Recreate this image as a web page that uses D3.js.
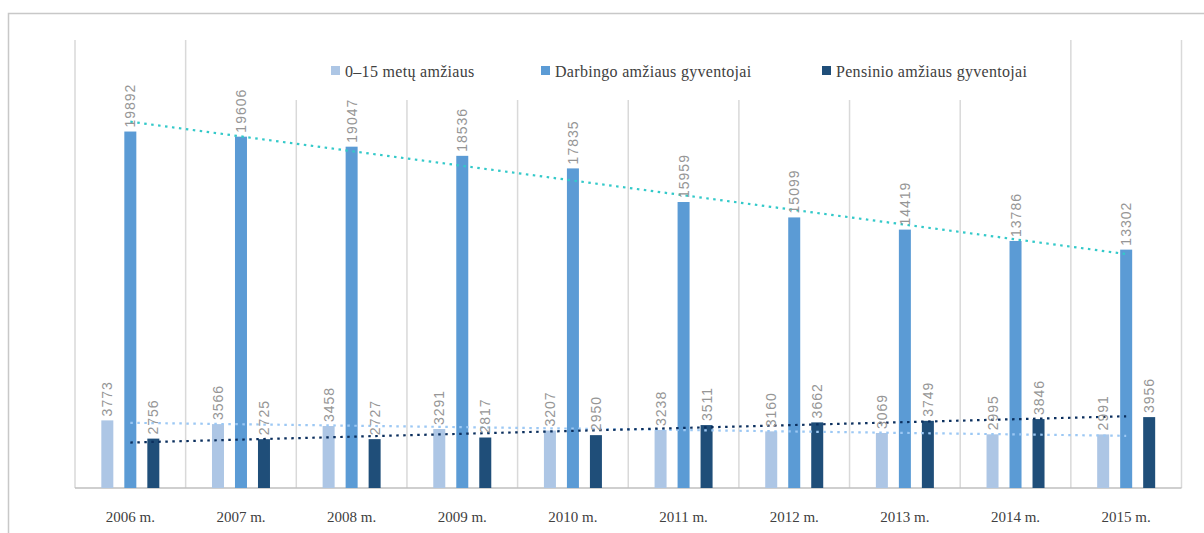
<!doctype html>
<html lang="lt">
<head>
    <meta charset="utf-8">
    <title>Gyventojai pagal amžiaus grupes</title>
    <script src="https://cdn.jsdelivr.net/npm/d3@7/dist/d3.min.js"></script>
    <style>
        body { margin: 0; background: #fff; }
        .lbl { font-family: "Liberation Sans", Arial, sans-serif; font-size: 14px; fill: #969696; letter-spacing: 1px; }
        .serif { font-family: "Liberation Serif", "Times New Roman", serif; font-size: 15px; fill: #404040; }
        .leg { font-family: "Liberation Serif", "Times New Roman", serif; font-size: 16px; fill: #404040; letter-spacing: 0.3px; }
    </style>
</head>
<body>
<svg id="chart" width="1204" height="533"></svg>
<script>
    // duomenys
    var years = ["2006 m.", "2007 m.", "2008 m.", "2009 m.", "2010 m.", "2011 m.", "2012 m.", "2013 m.", "2014 m.", "2015 m."];
    var seriesNames = ["0–15 metų amžiaus", "Darbingo amžiaus gyventojai", "Pensinio amžiaus gyventojai"];
    var vaikai = [3773, 3566, 3458, 3291, 3207, 3238, 3160, 3069, 2995, 2991];
    var darbingi = [19892, 19606, 19047, 18536, 17835, 15959, 15099, 14419, 13786, 13302];
    var pensininkai = [2756, 2725, 2727, 2817, 2950, 3511, 3662, 3749, 3846, 3956];
    var barColors = ["#adc6e5", "#5b9bd5", "#1f4e79"];
    var trendColors = ["#9cc8f4", "#33c9c9", "#0b2f5e"];

    var series = [vaikai, darbingi, pensininkai];

    var svg = d3.select("#chart");

    // rėmelis
    svg.append("rect")
        .attr("x", 8.5).attr("y", 13.5)
        .attr("width", 1220).attr("height", 540)
        .attr("fill", "none").attr("stroke", "#c8c8c8").attr("stroke-width", 1.5);

    var x = d3.scaleBand().domain(years).range([75, 1181.5]).padding(0);
    var xs = d3.scalePoint().domain(d3.range(3)).range([-23, 23]);
    var y = d3.scaleLinear().domain([0, 25000]).range([488, 40]);
    var barW = 12;

    // vertikalios tinklelio linijos
    var bounds = years.map(function (d) { return x(d); }).concat([x.range()[1]]);
    svg.append("g").selectAll("line")
        .data(bounds)
        .enter().append("line")
        .attr("x1", function (d) { return d; })
        .attr("x2", function (d) { return d; })
        .attr("y1", y(25000))
        .attr("y2", y(0))
        .attr("stroke", "#d9d9d9")
        .attr("stroke-width", 1.5);

    // ašis
    svg.append("line")
        .attr("x1", x.range()[0]).attr("x2", x.range()[1])
        .attr("y1", y(0)).attr("y2", y(0))
        .attr("stroke", "#bfbfbf").attr("stroke-width", 1.5);

    svg.append("g").selectAll("text")
        .data(years)
        .enter().append("text")
        .attr("class", "serif")
        .attr("x", function (d) { return x(d) + x.bandwidth() / 2; })
        .attr("y", 522)
        .attr("text-anchor", "middle")
        .text(function (d) { return d; });

    // stulpeliai
    series.forEach(function (vals, s) {
        var g = svg.append("g");
        g.selectAll("rect")
            .data(vals)
            .enter().append("rect")
            .attr("x", function (d, i) { return x(years[i]) + x.bandwidth() / 2 + xs(s) - barW / 2; })
            .attr("y", function (d) { return y(d); })
            .attr("width", barW)
            .attr("height", function (d) { return y(0) - y(d); })
            .attr("fill", barColors[s]);
    });

    // tendencijos linijos (tiesinė regresija)
    series.forEach(function (vals, s) {
        var n = vals.length;
        var mx = (n + 1) / 2, my = d3.mean(vals);
        var sxy = d3.sum(vals, function (v, i) { return (i + 1 - mx) * (v - my); });
        var sxx = d3.sum(vals, function (v, i) { return (i + 1 - mx) * (i + 1 - mx); });
        var b = sxy / sxx, a = my - b * mx;
        var cx0 = x(years[0]) + x.bandwidth() / 2;
        var cx1 = x(years[n - 1]) + x.bandwidth() / 2;
        svg.append("line")
            .attr("x1", cx0).attr("y1", y(a + b * 1))
            .attr("x2", cx1).attr("y2", y(a + b * n))
            .attr("stroke", trendColors[s])
            .attr("stroke-width", 2.2)
            .attr("stroke-dasharray", "2.5,4.5");
    });

    // reikšmių žymės
    series.forEach(function (vals, s) {
        svg.append("g").selectAll("text")
            .data(vals)
            .enter().append("text")
            .attr("class", "lbl")
            .attr("transform", function (d, i) {
                var cx = x(years[i]) + x.bandwidth() / 2 + xs(s) + 5;
                return "translate(" + cx + "," + (y(d) - 4) + ") rotate(-90)";
            })
            .text(function (d) { return d; });
    });

    // legenda
    var legend = svg.append("g");
    legend.append("rect")
        .attr("x", 290).attr("y", 38).attr("width", 772).attr("height", 62)
        .attr("fill", "#fff");
    var legX = [331, 541, 822];
    seriesNames.forEach(function (name, s) {
        legend.append("rect")
            .attr("x", legX[s]).attr("y", 66)
            .attr("width", 9).attr("height", 9)
            .attr("fill", barColors[s]);
        legend.append("text")
            .attr("class", "leg")
            .attr("x", legX[s] + 14).attr("y", 77)
            .text(name);
    });
</script>
</body>
</html>
